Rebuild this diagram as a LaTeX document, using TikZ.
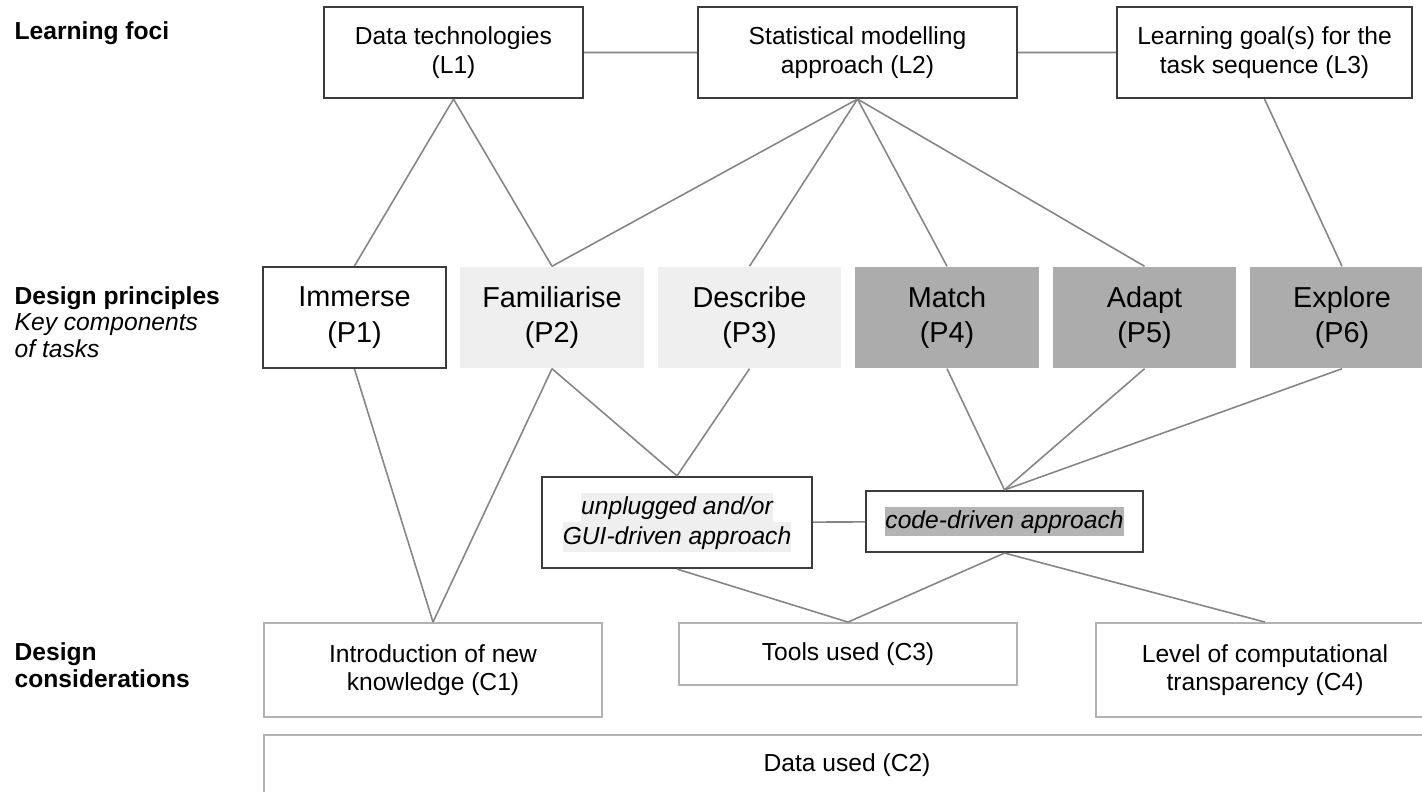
\documentclass[tikz,border=0pt]{standalone}
\usepackage{fontspec}
\setmainfont{Liberation Sans}
\definecolor{boxline}{HTML}{3C3C3C}
\definecolor{linkgray}{HTML}{858585}
\definecolor{lightfill}{HTML}{EFEFEF}
\definecolor{midfill}{HTML}{ACACAC}
\definecolor{codefill}{HTML}{B4B4B4}
\definecolor{softline}{HTML}{B2B2B2}
\setlength{\fboxsep}{0pt}
\newcommand{\hlline}[2]{\colorbox{#1}{\rule[-2.2pt]{0pt}{8.4pt}#2}}
\tikzset{
	focus/.style={draw=boxline,line width=0.6pt,minimum height=0.91cm,inner sep=0pt,align=center,font=\fontsize{7}{8.2}\selectfont},
	principle/.style={minimum width=1.83cm,minimum height=1.01cm,inner sep=0pt,align=center,font=\fontsize{8.2}{10}\selectfont},
	approach/.style={draw=boxline,line width=0.6pt,inner sep=0pt,align=center,font=\fontsize{7}{8.4}\selectfont\itshape},
	consider/.style={draw=softline,line width=0.5pt,minimum width=3.38cm,inner sep=0pt,align=center,font=\fontsize{7}{8}\selectfont},
	link/.style={draw=linkgray,line width=0.45pt},
	side/.style={anchor=west,align=left,inner sep=0pt,font=\fontsize{7}{7.6}\selectfont}
}
\begin{document}
\begin{tikzpicture}[x=0.01cm,y=-0.01cm]
	\useasboundingbox (0,0) rectangle (1422,792);
	\clip (0,0) rectangle (1422,792);
	% row labels
	\node[side] (foci) at (14,33) {\textbf{Learning foci}};
	\node[side] (principles) at (14,322) {\textbf{Design principles}\\\textit{Key components}\\\textit{of tasks}};
	\node[side] (considerations) at (14,665) {\textbf{Design}\\\textbf{considerations}};
	% learning foci
	\node[focus,minimum width=2.59cm] (L1) at (453.5,52.5) {Data technologies\\(L1)};
	\node[focus,minimum width=3.19cm] (L2) at (857.5,52.5) {Statistical modelling\\approach (L2)};
	\node[focus,minimum width=2.95cm] (L3) at (1264.5,52.5) {Learning goal(s) for the\\task sequence (L3)};
	% design principles
	\node[principle,draw=boxline,line width=0.6pt] (P1) at (354.5,317.5) {Immerse\\(P1)};
	\node[principle,fill=lightfill] (P2) at (552,317.5) {Familiarise\\(P2)};
	\node[principle,fill=lightfill] (P3) at (749.5,317.5) {Describe\\(P3)};
	\node[principle,fill=midfill] (P4) at (947,317.5) {Match\\(P4)};
	\node[principle,fill=midfill] (P5) at (1144.5,317.5) {Adapt\\(P5)};
	\node[principle,fill=midfill] (P6) at (1342,317.5) {Explore\\(P6)};
	% approaches
	\node[approach,minimum width=2.70cm,minimum height=0.91cm] (U) at (677,522.5) {\hlline{lightfill}{unplugged and/or}\\\hlline{lightfill}{GUI-driven approach}};
	\node[approach,minimum width=2.77cm,minimum height=0.61cm] (K) at (1004.5,521.5) {\hlline{codefill}{code-driven approach}};
	% design considerations
	\node[consider,minimum height=0.94cm] (C1) at (433,670) {Introduction of new\\knowledge (C1)};
	\node[consider,minimum height=0.62cm] (C3) at (848,654) {Tools used (C3)};
	\node[consider,minimum height=0.94cm] (C4) at (1265,670) {Level of computational\\transparency (C4)};
	\node[consider,minimum width=11.66cm,minimum height=0.60cm] (C2) at (847,765) {Data used (C2)};
	% links
	\draw[link] (L1) -- (L2) (L2) -- (L3) (U) -- (K);
	\foreach \a/\b in {L1/P1,L1/P2,L2/P2,L2/P3,L2/P4,L2/P5,L3/P6,P1/C1,P2/C1,P2/U,P3/U,P4/K,P5/K,P6/K,U/C3,K/C3,K/C4}
		\draw[link] (\a.south) -- (\b.north);
\end{tikzpicture}
\end{document}
